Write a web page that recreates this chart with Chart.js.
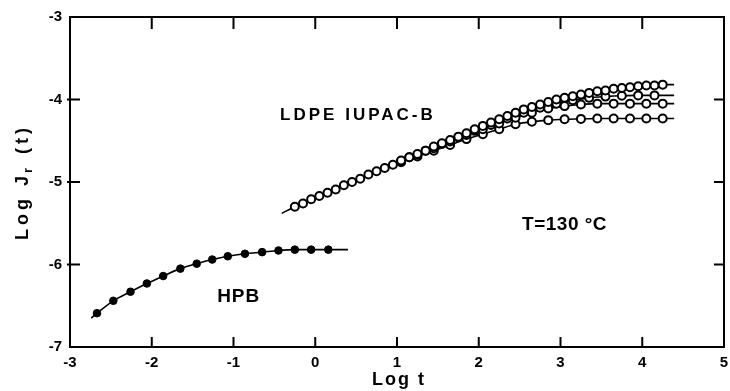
<!DOCTYPE html>
<html>
<head>
<meta charset="utf-8">
<script src="https://cdn.jsdelivr.net/npm/chart.js@4.4.1/dist/chart.umd.min.js"></script>
<style>
html, body { margin: 0; padding: 0; background: #fff; }
#wrap { width: 730px; height: 391px; }
</style>
</head>
<body>
<div id="wrap"><canvas id="c"></canvas></div>
<script>
// axis ticks
var xTicks = [-3, -2, -1, 0, 1, 2, 3, 4, 5];
var yTicks = [-7, -6, -5, -4, -3];

// HPB (filled dots)
var hpbLogT = [-2.67, -2.47, -2.26, -2.06, -1.86, -1.65, -1.45, -1.26, -1.07, -0.86, -0.65, -0.45, -0.25, -0.05, 0.16];
var hpbLogJ = [-6.59, -6.44, -6.33, -6.23, -6.14, -6.05, -5.99, -5.94, -5.90, -5.87, -5.85, -5.83, -5.82, -5.82, -5.82];
var hpbLineStart = [-2.74, -6.65];
var hpbLineEnd = [0.40, -5.82];

// LDPE IUPAC-B, four curves (open circles)
var ldpeALogT = [-0.25, -0.15, -0.05, 0.05, 0.15, 0.25, 0.35, 0.45, 0.55, 0.65, 0.75, 0.85, 0.95, 1.05, 1.15, 1.25, 1.35, 1.45, 1.55, 1.65, 1.75, 1.85, 1.95, 2.05, 2.15, 2.25, 2.35, 2.45, 2.55, 2.65, 2.75, 2.85, 2.95, 3.05, 3.15, 3.25, 3.35, 3.45, 3.55, 3.65, 3.75, 3.85, 3.95, 4.05, 4.15, 4.25];
var ldpeALogJ = [-5.30, -5.26, -5.21, -5.17, -5.13, -5.09, -5.04, -5.00, -4.96, -4.91, -4.87, -4.83, -4.79, -4.74, -4.70, -4.66, -4.62, -4.57, -4.53, -4.49, -4.45, -4.41, -4.36, -4.32, -4.28, -4.24, -4.20, -4.16, -4.12, -4.09, -4.06, -4.03, -4.00, -3.98, -3.96, -3.94, -3.92, -3.90, -3.89, -3.87, -3.86, -3.85, -3.84, -3.83, -3.83, -3.82];
var ldpeBLogT = [1.15, 1.35, 1.55, 1.75, 1.95, 2.15, 2.35, 2.55, 2.75, 2.95, 3.15, 3.35, 3.55, 3.75, 3.95, 4.15];
var ldpeBLogJ = [-4.70, -4.62, -4.54, -4.46, -4.38, -4.31, -4.23, -4.16, -4.10, -4.05, -4.01, -3.98, -3.965, -3.955, -3.95, -3.95];
var ldpeCLogT = [1.05, 1.25, 1.45, 1.65, 1.85, 2.05, 2.25, 2.45, 2.65, 2.85, 3.05, 3.25, 3.45, 3.65, 3.85, 4.05, 4.25];
var ldpeCLogJ = [-4.75, -4.67, -4.59, -4.51, -4.43, -4.36, -4.29, -4.22, -4.16, -4.11, -4.08, -4.06, -4.05, -4.05, -4.05, -4.05, -4.05];
var ldpeDLogT = [1.05, 1.25, 1.45, 1.65, 1.85, 2.05, 2.25, 2.45, 2.65, 2.85, 3.05, 3.25, 3.45, 3.65, 3.85, 4.05, 4.25];
var ldpeDLogJ = [-4.76, -4.69, -4.62, -4.55, -4.48, -4.42, -4.36, -4.30, -4.27, -4.25, -4.24, -4.235, -4.23, -4.23, -4.23, -4.23, -4.23];
var ldpeLineStart = [-0.41, -5.38];
var ldpeLineEndT = 4.39;

var FONT = '"Liberation Sans", Arial, sans-serif';

function toPoints(xs, ys) {
    return xs.map(function(x, i){ return {x: x, y: ys[i]}; });
}
// line through the points, with the start / end of the drawn curve
function toLine(xs, ys, start, end) {
    var pts = toPoints(xs, ys);
    if (start) pts.unshift({x: start[0], y: start[1]});
    if (end) pts.push({x: end[0], y: end[1]});
    return pts;
}

function lineSet(data) {
    return {
        data: data, showLine: true, borderColor: '#000', borderWidth: 1.6,
        pointRadius: 0, cubicInterpolationMode: 'monotone', fill: false, order: 2
    };
}
function markerSet(data, filled) {
    return {
        data: data, showLine: false, pointStyle: 'circle',
        pointRadius: filled ? 3.8 : 4, pointBorderWidth: filled ? 1 : 2,
        pointBorderColor: '#000', pointBackgroundColor: filled ? '#000' : '#fff', order: 1
    };
}

var aEnd = [ldpeLineEndT, ldpeALogJ[ldpeALogJ.length - 1]];
var bEnd = [ldpeLineEndT, ldpeBLogJ[ldpeBLogJ.length - 1]];
var cEnd = [ldpeLineEndT, ldpeCLogJ[ldpeCLogJ.length - 1]];
var dEnd = [ldpeLineEndT, ldpeDLogJ[ldpeDLogJ.length - 1]];

var datasets = [
    lineSet(toLine(hpbLogT, hpbLogJ, hpbLineStart, hpbLineEnd)),
    lineSet(toLine(ldpeALogT, ldpeALogJ, ldpeLineStart, aEnd)),
    lineSet(toLine(ldpeBLogT, ldpeBLogJ, null, bEnd)),
    lineSet(toLine(ldpeCLogT, ldpeCLogJ, null, cEnd)),
    lineSet(toLine(ldpeDLogT, ldpeDLogJ, null, dEnd)),
    markerSet(toPoints(hpbLogT, hpbLogJ), true),
    markerSet(toPoints(ldpeALogT, ldpeALogJ), false),
    markerSet(toPoints(ldpeBLogT, ldpeBLogJ), false),
    markerSet(toPoints(ldpeCLogT, ldpeCLogJ), false),
    markerSet(toPoints(ldpeDLogT, ldpeDLogJ), false)
];

// frame, inward ticks, axis titles and text labels
var decor = {
    id: 'decor',
    afterDraw: function(chart){
        var ctx = chart.ctx, a = chart.chartArea;
        var xs = chart.scales.x, ys = chart.scales.y;
        ctx.save();
        ctx.strokeStyle = '#000';
        ctx.lineWidth = 2;
        ctx.strokeRect(a.left, a.top, a.right - a.left, a.bottom - a.top);
        ctx.beginPath();
        xTicks.slice(1, -1).forEach(function(v){
            var px = xs.getPixelForValue(v);
            ctx.moveTo(px, a.bottom); ctx.lineTo(px, a.bottom - 10);
            ctx.moveTo(px, a.top); ctx.lineTo(px, a.top + 12);
        });
        yTicks.slice(1, -1).forEach(function(v){
            var py = ys.getPixelForValue(v);
            ctx.moveTo(a.left - 3, py); ctx.lineTo(a.left + 10, py);
            ctx.moveTo(a.right, py); ctx.lineTo(a.right - 10, py);
        });
        ctx.stroke();

        ctx.fillStyle = '#000';
        ctx.textBaseline = 'alphabetic';
        var big = 'bold 18px ' + FONT, small = 'bold 13px ' + FONT;

        // x title
        ctx.textAlign = 'center';
        ctx.font = big;
        ctx.letterSpacing = '2px';
        ctx.fillText('Log t', (a.left + a.right) / 2 + 2, 385);

        // y title with subscript
        var cy = (a.top + a.bottom) / 2;
        ctx.translate(28, cy);
        ctx.rotate(-Math.PI / 2);
        ctx.textAlign = 'left';
        ctx.letterSpacing = '4px';
        ctx.font = big;
        var w1 = ctx.measureText('Log J').width, w3 = ctx.measureText(' (t)').width;
        ctx.font = small;
        var w2 = ctx.measureText('r').width;
        var x0 = -(w1 + w2 + w3) / 2;
        ctx.font = big;
        ctx.fillText('Log J', x0, 0);
        ctx.font = small;
        ctx.fillText('r', x0 + w1 - 1, 4);
        ctx.font = big;
        ctx.fillText(' (t)', x0 + w1 + w2, 0);
        ctx.restore();

        // labels in the plot
        ctx.save();
        ctx.fillStyle = '#000';
        ctx.textBaseline = 'alphabetic';
        ctx.textAlign = 'left';
        ctx.font = 'bold 17px ' + FONT;
        ctx.letterSpacing = '3px';
        ctx.fillText('LDPE IUPAC-B', xs.getPixelForValue(-0.43), ys.getPixelForValue(-4.25));
        ctx.font = 'bold 19px ' + FONT;
        ctx.letterSpacing = '1px';
        ctx.fillText('HPB', xs.getPixelForValue(-1.20), ys.getPixelForValue(-6.45));
        ctx.letterSpacing = '0.5px';
        ctx.fillText('T=130 °C', xs.getPixelForValue(2.53), ys.getPixelForValue(-5.58));
        ctx.restore();
    }
};

new Chart(document.getElementById('c'), {
    type: 'scatter',
    data: { datasets: datasets },
    options: {
        responsive: true,
        maintainAspectRatio: false,
        animation: false,
        layout: { padding: { left: 0, right: 2, top: 17, bottom: 0 } },
        plugins: { legend: { display: false }, tooltip: { enabled: false } },
        scales: {
            x: {
                type: 'linear', min: -3, max: 5,
                grid: { display: false, drawTicks: false },
                border: { display: false },
                afterBuildTicks: function(s){ s.ticks = xTicks.map(function(v){ return {value: v}; }); },
                ticks: { padding: 7, color: '#000', font: { family: FONT, size: 15, weight: 'bold' } },
                afterFit: function(s){ s.height = 44; s.paddingLeft = 0; s.paddingRight = 0; }
            },
            y: {
                type: 'linear', min: -7, max: -3,
                grid: { display: false, drawTicks: false },
                border: { display: false },
                afterBuildTicks: function(s){ s.ticks = yTicks.map(function(v){ return {value: v}; }); },
                ticks: { padding: 8, color: '#000', font: { family: FONT, size: 15, weight: 'bold' } },
                afterFit: function(s){ s.width = 70; s.paddingTop = 0; s.paddingBottom = 0; }
            }
        }
    },
    plugins: [decor]
});
</script>
</body>
</html>
